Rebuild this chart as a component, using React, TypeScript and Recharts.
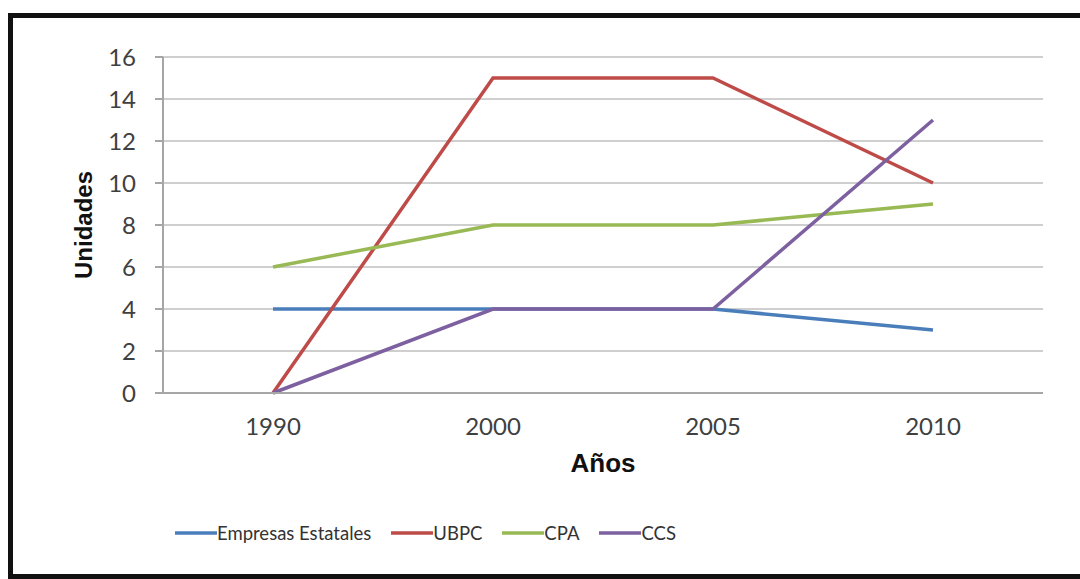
import React from "react";
import {
  LineChart,
  Line,
  XAxis,
  YAxis,
  CartesianGrid,
  Legend,
} from "recharts";

const years = ["1990", "2000", "2005", "2010"];
const empresasEstatales = [4, 4, 4, 3];
const ubpc = [0, 15, 15, 10];
const cpa = [6, 8, 8, 9];
const ccs = [0, 4, 4, 13];
const yTicks = [0, 2, 4, 6, 8, 10, 12, 14, 16];

const series = [
  { key: "empresas", name: "Empresas Estatales", color: "#4a7ebb", values: empresasEstatales },
  { key: "ubpc", name: "UBPC", color: "#be4b48", values: ubpc },
  { key: "cpa", name: "CPA", color: "#98b954", values: cpa },
  { key: "ccs", name: "CCS", color: "#7d60a0", values: ccs },
];

const data = years.map((year, i) => {
  const row: any = { year };
  series.forEach((s) => {
    row[s.key] = s.values[i];
  });
  return row;
});

const tickStyle = { fontFamily: "Lato", fontSize: 24, fill: "#404040" };

// keep the legend in the series order (Excel order), not sorted
const renderLegend = () => (
  <div
    style={{
      display: "flex",
      alignItems: "center",
      height: 30,
      fontFamily: "Lato",
      fontSize: 18.5,
      color: "#333",
      whiteSpace: "nowrap",
    }}
  >
    {series.map((s) => (
      <div
        key={s.key}
        style={{ display: "flex", alignItems: "center", marginRight: 20 }}
      >
        <svg width={42} height={6}>
          <line x1={0} y1={3} x2={42} y2={3} stroke={s.color} strokeWidth={3.5} />
        </svg>
        <span>{s.name}</span>
      </div>
    ))}
  </div>
);

const yTitle = (props: any) => {
  const vb = props.viewBox || { x: 0, y: 0, width: 0, height: 0 };
  const cx = 70;
  const cy = vb.y + vb.height / 2;
  return (
    <text
      x={cx}
      y={cy}
      transform={`rotate(-90, ${cx}, ${cy})`}
      textAnchor="middle"
      dominantBaseline="central"
      fontFamily="Liberation Sans, Arial, sans-serif"
      fontWeight="bold"
      fontSize={24}
      fill="#111"
    >
      Unidades
    </text>
  );
};

const xTitle = (props: any) => {
  const vb = props.viewBox || { x: 0, y: 0, width: 0, height: 0 };
  return (
    <text
      x={vb.x + vb.width / 2}
      y={vb.y + 70}
      textAnchor="middle"
      dominantBaseline="central"
      fontFamily="Liberation Sans, Arial, sans-serif"
      fontWeight="bold"
      fontSize={26}
      fill="#111"
    >
      Años
    </text>
  );
};

export default function App() {
  return (
    <div
      style={{
        position: "absolute",
        left: 8,
        top: 13,
        width: 1080,
        height: 556,
        border: "5px solid #111",
        borderRight: "none",
        background: "#fff",
      }}
    >
      <LineChart
        width={1070}
        height={556}
        data={data}
        margin={{ top: 39, right: 40, left: 0, bottom: 71 }}
      >
        <CartesianGrid vertical={false} stroke="#cfcfcf" strokeWidth={2} />
        <XAxis
          dataKey="year"
          height={80}
          padding={{ left: 110, right: 110 }}
          tickLine={false}
          tickMargin={19}
          tick={tickStyle}
          axisLine={{ stroke: "#a6a6a6", strokeWidth: 2 }}
          label={{ content: xTitle }}
        />
        <YAxis
          width={150}
          domain={[0, 16]}
          ticks={yTicks}
          interval={0}
          tickSize={8}
          tickMargin={19}
          tick={tickStyle}
          tickLine={{ stroke: "#a6a6a6", strokeWidth: 2 }}
          axisLine={{ stroke: "#a6a6a6", strokeWidth: 2 }}
          label={{ content: yTitle }}
        />
        <Legend
          content={renderLegend}
          verticalAlign="bottom"
          wrapperStyle={{ top: 500, bottom: "auto", left: 162, width: "auto" }}
        />
        {series.map((s) => (
          <Line
            key={s.key}
            type="linear"
            dataKey={s.key}
            name={s.name}
            stroke={s.color}
            strokeWidth={3.5}
            dot={false}
            activeDot={false}
            isAnimationActive={false}
          />
        ))}
      </LineChart>
    </div>
  );
}
